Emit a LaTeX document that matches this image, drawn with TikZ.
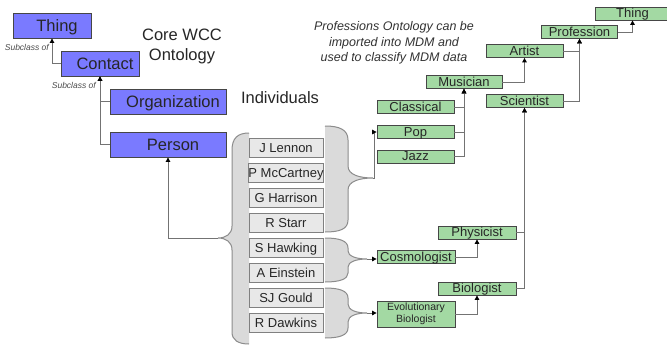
\documentclass[tikz,border=0pt]{standalone}
\usepackage{fontspec}
\setmainfont{Liberation Sans}
\usetikzlibrary{arrows.meta,calc}
\definecolor{bluefill}{RGB}{122,122,255}
\definecolor{greenfill}{RGB}{163,217,163}
\definecolor{grayfill}{RGB}{232,232,232}
\definecolor{bracefill}{RGB}{218,218,218}
\definecolor{edge}{RGB}{70,70,70}
\definecolor{lineg}{RGB}{115,115,115}
\definecolor{braceline}{RGB}{140,140,140}
\begin{document}
\begin{tikzpicture}[x=1pt,y=-1pt,
  bluebox/.style={draw=edge, fill=bluefill, line width=0.9pt, inner sep=0pt, minimum height=25pt,
    text height=12pt, text depth=0.5pt, font=\fontsize{16.5}{19}\selectfont, text=black!85},
  greybox/.style={draw=gray, fill=grayfill, line width=0.9pt, inner sep=0pt, minimum width=74pt,
    minimum height=19pt, text height=9pt, text depth=0.3pt, font=\fontsize{13}{14}\selectfont, text=black!85},
  greenbox/.style={draw=edge, fill=greenfill, line width=0.8pt, inner sep=0pt, minimum width=77pt,
    minimum height=13pt, text height=9pt, text depth=0.3pt, font=\fontsize{13}{14}\selectfont, text=black!85},
  conn/.style={draw=lineg, line width=0.9pt, -{Triangle[length=4.5pt,width=4.5pt,color=black]}},
  bracefillst/.style={fill=bracefill},
  bracedraw/.style={draw=braceline, line width=1pt},
  sublabel/.style={font=\fontsize{8.5}{10}\selectfont\itshape, text=black!70, inner sep=0pt},
  plaintext/.style={font=\fontsize{16.5}{20}\selectfont, text=black!85, inner sep=0pt, align=center},
  notetext/.style={font=\fontsize{12.5}{15.5}\selectfont\itshape, text=black!80, inner sep=0pt, align=center}
]
\useasboundingbox (0,0) rectangle (667,346);
\fill[white] (0,0) rectangle (667,346);

% ---------- braces ----------
\fill[bracefillst] (249,133) .. controls (238,133) and (232,138) .. (232,150) -- (232,226)
  .. controls (232,234) and (226,238) .. (218,238) .. controls (226,238) and (232,242) .. (232,250)
  -- (232,332) .. controls (232,340) and (238,344) .. (249,344) -- cycle;
\draw[bracedraw] (249,133) .. controls (238,133) and (232,138) .. (232,150) -- (232,226)
  .. controls (232,234) and (226,238) .. (218,238) .. controls (226,238) and (232,242) .. (232,250)
  -- (232,332) .. controls (232,340) and (238,344) .. (249,344);
\coordinate (bigtip) at (218,238);

\fill[bracefillst] (325,126) .. controls (340,126) and (348,130) .. (348,140) -- (348,166)
  .. controls (348,175) and (360,178) .. (373,178) .. controls (360,178) and (348,181) .. (348,190)
  -- (348,220) .. controls (348,229) and (340,232) .. (325,232) -- cycle;
\draw[bracedraw] (325,126) .. controls (340,126) and (348,130) .. (348,140) -- (348,166)
  .. controls (348,175) and (360,178) .. (373,178) .. controls (360,178) and (348,181) .. (348,190)
  -- (348,220) .. controls (348,229) and (340,232) .. (325,232);
\coordinate (tipa) at (373,178);

\fill[bracefillst] (325,238) .. controls (340,238) and (348,241) .. (348,248) -- (348,251)
  .. controls (348,256) and (356,259) .. (367,259) .. controls (356,259) and (348,262) .. (348,267)
  -- (348,273) .. controls (348,279) and (340,282) .. (325,282) -- cycle;
\draw[bracedraw] (325,238) .. controls (340,238) and (348,241) .. (348,248) -- (348,251)
  .. controls (348,256) and (356,259) .. (367,259) .. controls (356,259) and (348,262) .. (348,267)
  -- (348,273) .. controls (348,279) and (340,282) .. (325,282);
\coordinate (tipb) at (367,259);

\fill[bracefillst] (325,288) .. controls (340,288) and (348,291) .. (348,298) -- (348,304)
  .. controls (348,310) and (356,313) .. (367,313) .. controls (356,313) and (348,316) .. (348,322)
  -- (348,328) .. controls (348,335) and (340,338) .. (325,338) -- cycle;
\draw[bracedraw] (325,288) .. controls (340,288) and (348,291) .. (348,298) -- (348,304)
  .. controls (348,310) and (356,313) .. (367,313) .. controls (356,313) and (348,316) .. (348,322)
  -- (348,328) .. controls (348,335) and (340,338) .. (325,338);
\coordinate (tipc) at (367,313);

% ---------- core ontology ----------
\node[bluebox, minimum width=78pt] (thing) at (52,25.5) {\hspace{10pt}Thing};
\node[bluebox, minimum width=78pt] (contact) at (100,63.5) {\hspace{10pt}Contact};
\node[bluebox, minimum width=116pt] (org) at (168,101.5) {\hspace{10pt}Organization};
\node[bluebox, minimum width=116pt] (person) at (168,144.5) {\hspace{10pt}Person};

\node[sublabel, anchor=east] (sub1) at (49,47) {Subclass of};
\node[sublabel, anchor=east] (sub2) at (96,85) {Subclass of};

\node[plaintext] (core) at (182,46) {Core WCC\\Ontology};
\node[plaintext, anchor=base] (indiv) at (280,103) {Individuals};

\draw[conn] (contact.west) -| (thing.south);
\draw[conn] (org.west) -| (contact.south);
\draw[conn] (person.west) -| (contact.south);
\draw[conn] (bigtip) -| (person.south);

% ---------- individuals ----------
\node[greybox] (lennon) at (286,148) {J Lennon};
\node[greybox] (mccartney) at (286,173) {P McCartney};
\node[greybox] (harrison) at (286,198) {G Harrison};
\node[greybox] (starr) at (286,223) {R Starr};
\node[greybox] (hawking) at (286,248) {S Hawking};
\node[greybox] (einstein) at (286,273) {A Einstein};
\node[greybox] (gould) at (286,298) {SJ Gould};
\node[greybox] (dawkins) at (286,323) {R Dawkins};

% ---------- professions ontology ----------
\node[notetext] (note) at (394,43) {Professions Ontology can be\\imported into MDM and\\used to classify MDM data};

\node[greenbox, minimum width=75pt] (gthing) at (632.5,13.5) {Thing};
\node[greenbox, minimum width=76pt] (prof) at (579.5,32) {Profession};
\node[greenbox] (artist) at (524.5,51) {Artist};
\node[greenbox, minimum width=76pt] (musician) at (464,82) {Musician};
\node[greenbox] (scientist) at (524.5,101) {Scientist};
\node[greenbox] (classical) at (415.5,107) {Classical};
\node[greenbox] (pop) at (415.5,132) {Pop};
\node[greenbox] (jazz) at (415.5,156.5) {Jazz};
\node[greenbox, minimum width=78pt] (physicist) at (477,232.5) {Physicist};
\node[greenbox, minimum width=78pt] (cosmo) at (416,257) {Cosmologist};
\node[greenbox, minimum width=78pt] (biologist) at (477,288.5) {Biologist};
\node[greenbox, minimum width=78pt, minimum height=26pt, text height=, text depth=, align=center,
  font=\fontsize{10.5}{12.5}\selectfont] (evbio) at (416,314) {Evolutionary\\Biologist};

\draw[conn] (prof.east) -| (gthing.south);
\draw[conn] (artist.east) -| (prof.south);
\draw[conn] (scientist.east) -| (prof.south);
\draw[conn] (musician.east) -| (artist.south);
\draw[conn] (classical.east) -| (musician.south);
\draw[conn] (pop.east) -| (musician.south);
\draw[conn] (jazz.east) -| (musician.south);
\draw[conn] (physicist.east) -| (scientist.south);
\draw[conn] (biologist.east) -| (scientist.south);
\draw[conn] (cosmo.east) -| (physicist.south);
\draw[conn] (evbio.east) -| (biologist.south);

\draw[conn] (tipa) -- ++(1,0) |- (pop.west);
\draw[conn] (tipb) -- (tipb -| cosmo.west);
\draw[conn] (tipc) -- (tipc -| evbio.west);
\end{tikzpicture}
\end{document}
